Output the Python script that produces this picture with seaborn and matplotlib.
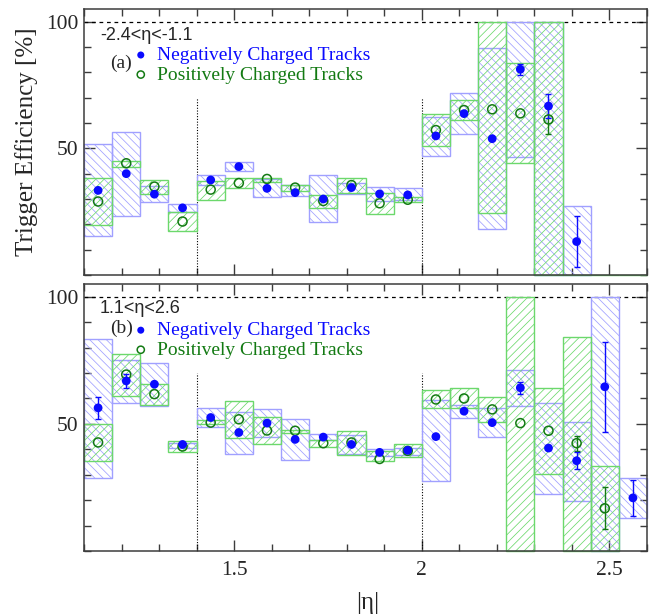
import numpy as np
import pandas as pd
import matplotlib
matplotlib.use("Agg")
import matplotlib.pyplot as plt
from matplotlib.ticker import MultipleLocator, FixedLocator
import seaborn as sns

nan = np.nan

# ---------------- data ----------------
eta_centers = [1.1375, 1.2125, 1.2875, 1.3625, 1.4375, 1.5125, 1.5875, 1.6625,
               1.7375, 1.8125, 1.8875, 1.9625, 2.0375, 2.1125, 2.1875, 2.2625,
               2.3375, 2.4125, 2.4875, 2.5625]
bin_width = 0.075
region_bounds = [1.4, 2.0]

# panel (a): -2.4 < eta < -1.1
a_neg_eff = [33.4, 40.0, 31.9, 26.5, 37.5, 42.8, 34.2, 32.5, 30.0, 34.5, 32.0, 31.6,
             54.9, 63.7, 53.8, 81.2, 66.7, 13.2, nan, nan]
a_neg_stat = [nan, nan, nan, nan, nan, nan, nan, nan, nan, nan, nan, nan,
              nan, nan, nan, 2.1, 4.9, 10.0, nan, nan]
a_neg_sys_lo = [15.2, 23.3, 28.7, 24.8, 35.5, 40.9, 30.9, 31.3, 20.8, 32.0, 29.4, 29.6,
                47.1, 55.7, 18.0, 46.7, 0.0, 0.0, nan, nan]
a_neg_sys_hi = [51.7, 56.6, 35.3, 28.2, 39.5, 44.6, 37.9, 35.5, 39.3, 36.2, 34.6, 34.4,
                62.5, 71.8, 89.5, 100.0, 100.0, 27.1, nan, nan]
a_pos_eff = [29.0, 44.1, 34.9, 21.1, 33.7, 36.3, 37.9, 34.5, 29.2, 35.5, 28.3, 29.7,
             57.2, 65.1, 65.4, 63.8, 61.4, nan, nan, nan]
a_pos_stat = [nan, nan, nan, nan, nan, nan, nan, nan, nan, nan, nan, nan,
              nan, nan, nan, nan, 5.6, nan, nan, nan]
a_pos_sys_lo = [19.8, 42.8, 32.0, 17.5, 29.7, 34.4, 36.6, 33.3, 26.5, 32.4, 24.1, 28.9,
                50.8, 61.2, 24.5, 44.2, 0.0, 0.0, 0.0, 0.0]
a_pos_sys_hi = [38.3, 45.1, 37.5, 24.8, 37.2, 38.3, 38.3, 35.5, 31.7, 38.2, 32.4, 30.9,
                63.5, 69.2, 100.0, 83.5, 100.0, 0.0, 0.0, 0.0]

# panel (b): 1.1 < eta < 2.6
b_neg_eff = [56.3, 66.9, 65.6, 41.9, 52.5, 46.6, 50.3, 43.9, 44.8, 41.9, 38.8, 39.6,
             45.0, 55.0, 50.5, 64.2, 40.5, 35.5, 64.6, 20.9]
b_neg_stat = [4.3, 2.7, nan, nan, nan, nan, nan, nan, nan, nan, nan, nan,
              nan, nan, nan, 2.3, nan, 3.3, 17.6, 7.2]
b_neg_sys_lo = [28.7, 58.3, 57.0, 40.5, 48.7, 38.3, 45.0, 35.9, 43.7, 38.3, 37.2, 37.9,
                27.4, 52.5, 45.0, 57.0, 22.6, 19.6, 0.0, 12.8]
b_neg_sys_hi = [83.5, 75.0, 74.1, 42.4, 56.4, 54.8, 55.7, 52.1, 46.0, 45.6, 40.2, 40.5,
                59.4, 57.4, 56.1, 71.1, 58.1, 50.9, 100.0, 28.7]
b_pos_eff = [42.7, 69.4, 61.7, 41.1, 50.5, 51.8, 47.4, 47.3, 42.4, 42.7, 36.2, 39.4,
             59.6, 60.0, 55.7, 50.3, 47.3, 42.4, 16.8, nan]
b_pos_stat = [nan, nan, nan, nan, nan, nan, nan, nan, nan, nan, nan, nan,
              nan, nan, nan, nan, nan, 2.9, 8.3, nan]
b_pos_sys_lo = [35.3, 61.0, 57.4, 38.8, 49.9, 44.4, 42.2, 46.3, 41.1, 37.9, 35.3, 36.8,
                56.1, 56.1, 50.9, 0.0, 30.1, 0.0, 0.0, nan]
b_pos_sys_hi = [50.0, 77.6, 65.6, 43.1, 51.6, 59.1, 52.9, 47.7, 43.7, 47.3, 39.2, 42.2,
                63.3, 64.3, 60.4, 100.0, 64.3, 84.2, 33.6, nan]

panel_ranges = ["-2.4<\u03b7<-1.1", "1.1<\u03b7<2.6"]
panel_tags = ["(a)", "(b)"]
series_labels = ["Negatively Charged Tracks", "Positively Charged Tracks"]

# ---------------- style ----------------
sns.set_theme(style="ticks")
plt.rcParams["font.family"] = ["Liberation Serif", "DejaVu Serif"]
plt.rcParams["mathtext.fontset"] = "stix"
plt.rcParams["hatch.linewidth"] = 0.55

NEG_COLOR = "#0a0aff"
POS_COLOR = "#137a13"
NEG_BOX = "#a0a0ff"
POS_BOX = "#6cd86c"
SPINE = "#3c3c3c"

fig = plt.figure(figsize=(6.59, 6.16), dpi=100)
ax_a = fig.add_axes([0.1275, 0.5536, 0.8543, 0.4318])
ax_b = fig.add_axes([0.1275, 0.1055, 0.8543, 0.4334])


def make_df(eff, stat, lo, hi):
    return pd.DataFrame({"eta": eta_centers, "eff": eff, "stat": stat,
                         "lo": lo, "hi": hi})


def draw_panel(ax, neg, pos, rng_text, tag, rng_y, tag_y):
    # systematic boxes
    for df, col, hatch in [(neg, NEG_BOX, "\\\\\\\\"), (pos, POS_BOX, "////")]:
        d = df.dropna(subset=["lo", "hi"])
        ax.bar(d["eta"], d["hi"] - d["lo"], bottom=d["lo"], width=bin_width,
               facecolor="none", edgecolor=col, hatch=hatch, linewidth=1.0,
               zorder=2, clip_on=False)
    # statistical error bars
    for df, col in [(pos, POS_COLOR), (neg, NEG_COLOR)]:
        d = df.dropna(subset=["stat", "eff"])
        if len(d):
            ax.errorbar(d["eta"], d["eff"], yerr=d["stat"], fmt="none",
                        ecolor=col, elinewidth=1.0, capsize=2.5, capthick=1.0,
                        zorder=4)
    # points
    sns.scatterplot(data=pos.dropna(subset=["eff"]), x="eta", y="eff", ax=ax,
                    marker="o", s=42, facecolor="none", edgecolor=POS_COLOR,
                    linewidth=1.1, zorder=5, label=series_labels[1])
    sns.scatterplot(data=neg.dropna(subset=["eff"]), x="eta", y="eff", ax=ax,
                    marker="o", s=40, color=NEG_COLOR, edgecolor="none",
                    linewidth=0, zorder=6, label=series_labels[0])

    # reference lines
    ax.axhline(100, color="black", lw=0.9, ls=(0, (3, 3)), zorder=1)
    ax.vlines(region_bounds, 0, 70, colors="black", lw=0.8, ls=(0, (1, 1.5)),
              zorder=1)

    ax.set_xlim(1.1, 2.6)
    ax.set_ylim(0, 105)
    ax.set_xlabel("")
    ax.set_ylabel("")

    ax.xaxis.set_major_locator(FixedLocator([1.5, 2.0, 2.5]))
    ax.xaxis.set_minor_locator(MultipleLocator(0.1))
    ax.yaxis.set_major_locator(FixedLocator([50, 100]))
    ax.yaxis.set_minor_locator(MultipleLocator(10))
    ax.set_xticklabels(["1.5", "2", "2.5"])
    ax.set_yticklabels(["50", "100"])
    ax.tick_params(which="both", direction="in", top=True, right=True,
                   color=SPINE, width=1.0, labelsize=15.5)
    ax.tick_params(which="major", length=8, pad=4)
    ax.tick_params(which="minor", length=5)
    ax.tick_params(axis="x", which="major", pad=7)
    for sp in ax.spines.values():
        sp.set_color(SPINE)
        sp.set_linewidth(1.1)
        sp.set_zorder(3)

    # annotations
    ax.text(0.028, rng_y, rng_text, transform=ax.transAxes, ha="left",
            va="baseline", fontsize=13, family=["Liberation Sans", "DejaVu Sans"])
    ax.text(0.046, tag_y, tag, transform=ax.transAxes, ha="left",
            va="baseline", fontsize=14)

    handles, labels = ax.get_legend_handles_labels()
    hmap = dict(zip(labels, handles))
    ax.legend([hmap[series_labels[0]], hmap[series_labels[1]]],
              series_labels, loc="upper left",
              bbox_to_anchor=(0.087, 0.859), frameon=False,
              fontsize=14, handlelength=0.8, handletextpad=0.45,
              borderpad=0, borderaxespad=0, labelspacing=0.1,
              markerscale=0.8, labelcolor=[NEG_COLOR, POS_COLOR])


neg_a = make_df(a_neg_eff, a_neg_stat, a_neg_sys_lo, a_neg_sys_hi)
pos_a = make_df(a_pos_eff, a_pos_stat, a_pos_sys_lo, a_pos_sys_hi)
neg_b = make_df(b_neg_eff, b_neg_stat, b_neg_sys_lo, b_neg_sys_hi)
pos_b = make_df(b_pos_eff, b_pos_stat, b_pos_sys_lo, b_pos_sys_hi)

draw_panel(ax_a, neg_a, pos_a, panel_ranges[0], panel_tags[0], 0.883, 0.779)
draw_panel(ax_b, neg_b, pos_b, panel_ranges[1], panel_tags[1], 0.890, 0.818)
ax_a.tick_params(axis="x", labelbottom=False)

fig.text(27 / 659, 1 - 142 / 616, "Trigger Efficiency [%]", rotation=90,
         ha="center", va="center", fontsize=18)
fig.text(368 / 659, 1 - 603 / 616, "|\u03b7|", ha="center", va="center",
         fontsize=18)

fig.savefig("out.png", dpi=100)
